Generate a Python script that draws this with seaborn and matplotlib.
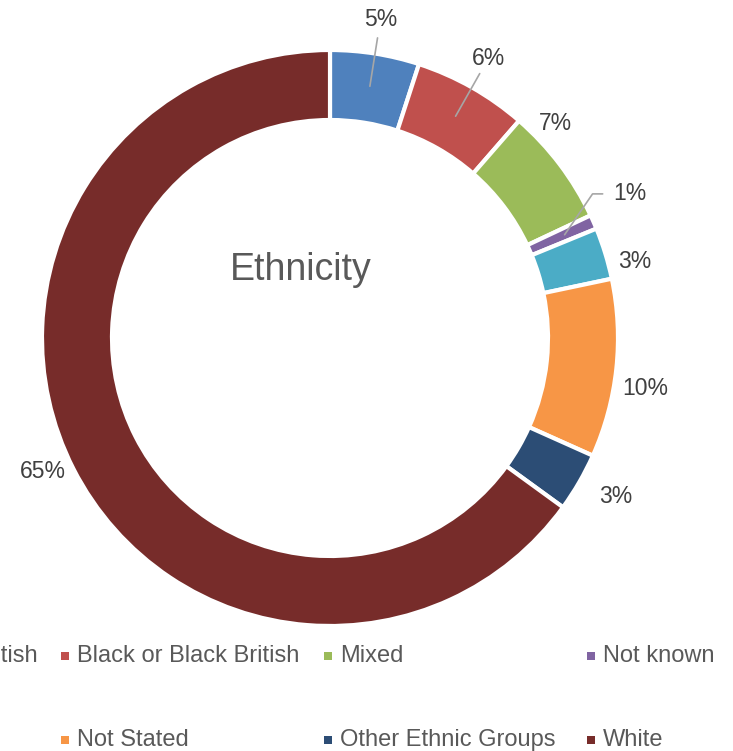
import numpy as np
import matplotlib
matplotlib.use("Agg")
import matplotlib.pyplot as plt
import seaborn as sns

# ================== Data ==================
categories = ["Asian or Asian British", "Black or Black British", "Mixed", "Not known",
              "Not Recorded", "Not Stated", "Other Ethnic Groups", "White"]
values = [5.0, 6.4, 6.6, 0.8, 2.9, 10.0, 3.3, 65.0]
colors = ["#4F81BD", "#C0504D", "#9BBB59", "#8064A2",
          "#4BACC6", "#F79646", "#2C4D75", "#772C2A"]
# label placement (radius factor, angle nudge in degrees) - like Excel best fit
label_radius = [1.12, 1.115, 1.08, 1.155, 1.09, 1.11, 1.133, 1.10]
label_nudge = [0, 0, -6.5, -2, 3, 3, -1, 2]
leader = [True, True, False, True, False, False, False, False]

W, H = 733, 751
CX, CY, R, R_IN = 330, 338, 288, 218

sns.set_theme(style="white")
plt.rcParams['font.family'] = ['Liberation Sans', 'DejaVu Sans']
palette = sns.color_palette(colors)

fig = plt.figure(figsize=(W / 100, H / 100), dpi=100)
lim = 1.3
ax = fig.add_axes([(CX - lim * R) / W, 1 - (CY + lim * R) / H, 2 * lim * R / W, 2 * lim * R / H])

ax.pie(values, colors=palette, startangle=90, counterclock=False, radius=1,
       wedgeprops=dict(width=1 - R_IN / R, edgecolor="white", linewidth=3))
ax.set_xlim(-lim, lim)
ax.set_ylim(-lim, lim)
ax.set_aspect("equal")
ax.axis("off")

# ================== Data labels ==================
total = sum(values)
cum = np.cumsum([0] + values[:-1])
for i, v in enumerate(values):
    mid = (cum[i] + v / 2) / total * 360
    a = np.deg2rad(mid + label_nudge[i])
    r = label_radius[i]
    ax.text(r * np.sin(a), r * np.cos(a), f"{v / total * 100:.0f}%", ha="center", va="center",
            fontsize=16.5, color="#404040", clip_on=False)
    if leader[i]:
        m = np.deg2rad(mid)
        if i == 3:
            e = np.deg2rad(mid - 5)
            xs = [0.89 * np.sin(m), 1.04 * np.sin(e), 1.04 * np.sin(e) + 0.035]
            ys = [0.89 * np.cos(m), 1.04 * np.cos(e), 1.04 * np.cos(e)]
        else:
            xs = [0.885 * np.sin(m), 1.055 * np.sin(m)]
            ys = [0.885 * np.cos(m), 1.055 * np.cos(m)]
        ax.plot(xs, ys, color="#A6A6A6", linewidth=1.2, clip_on=False)

# ================== Title ==================
fig.text(301 / W, 1 - 270 / H, "Ethnicity", ha="center", va="center", fontsize=27, color="#595959")

# ================== Legend (Excel style, 4 columns, row-major) ==================
col_x = [-198, 65, 328, 591]
row_y = [656, 740]
for i, name in enumerate(categories):
    cx_ = col_x[i % 4]
    cy_ = row_y[i // 4]
    fig.patches.append(plt.Rectangle(((cx_ - 4) / W, 1 - (cy_ + 4) / H), 8 / W, 8 / H,
                                     transform=fig.transFigure, facecolor=colors[i], edgecolor="none"))
    fig.text((cx_ + 12) / W, 1 - cy_ / H, name, ha="left", va="center", fontsize=17, color="#595959")

plt.savefig("out.png", dpi=100)
